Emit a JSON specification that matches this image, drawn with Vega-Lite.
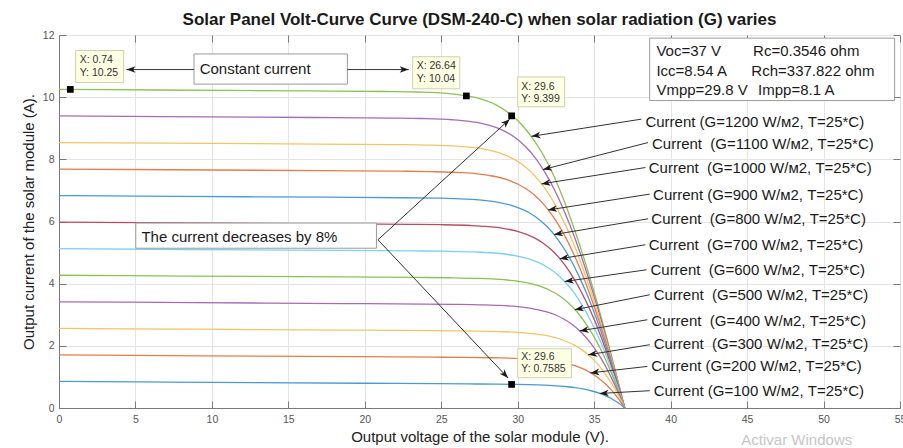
{
  "$schema": "https://vega.github.io/schema/vega-lite/v6.json",
  "width": 841,
  "height": 373,
  "autosize": {"type": "none"},
  "padding": {"left": 59, "top": 35, "right": 3, "bottom": 40},
  "background": "white",
  "title": {"text": "Solar Panel Volt-Curve Curve (DSM-240-C) when solar radiation (G) varies", "fontSize": 17, "fontWeight": "bold", "font": "Liberation Sans", "color": "#1a1a1a", "offset": 1, "anchor": "middle", "frame": "group"},
  "datasets": {
    "curves": [
      {"G":1200,"V":0,"I":10.25},{"G":1200,"V":6.37,"I":10.23},{"G":1200,"V":16.38,"I":10.201},{"G":1200,"V":21.39,"I":10.183},{"G":1200,"V":23.39,"I":10.167},{"G":1200,"V":25.41,"I":10.12},{"G":1200,"V":26.43,"I":10.06},{"G":1200,"V":27.46,"I":9.96},{"G":1200,"V":28.52,"I":9.77},{"G":1200,"V":29.65,"I":9.40},{"G":1200,"V":30.25,"I":9.12},{"G":1200,"V":30.88,"I":8.74},{"G":1200,"V":31.58,"I":8.22},{"G":1200,"V":32.35,"I":7.481},{"G":1200,"V":33.22,"I":6.421},{"G":1200,"V":34.25,"I":4.942},{"G":1200,"V":34.96,"I":3.788},{"G":1200,"V":35.76,"I":2.378},{"G":1200,"V":36.35,"I":1.268},{"G":1200,"V":37,"I":0},
      {"G":1100,"V":0,"I":9.395},{"G":1100,"V":6.68,"I":9.375},{"G":1100,"V":16.69,"I":9.346},{"G":1100,"V":21.69,"I":9.328},{"G":1100,"V":23.7,"I":9.313},{"G":1100,"V":25.71,"I":9.274},{"G":1100,"V":26.73,"I":9.229},{"G":1100,"V":27.76,"I":9.143},{"G":1100,"V":28.82,"I":8.979},{"G":1100,"V":29.93,"I":8.662},{"G":1100,"V":30.52,"I":8.404},{"G":1100,"V":31.15,"I":8.047},{"G":1100,"V":31.82,"I":7.547},{"G":1100,"V":32.57,"I":6.851},{"G":1100,"V":33.42,"I":5.88},{"G":1100,"V":34.4,"I":4.526},{"G":1100,"V":35.07,"I":3.469},{"G":1100,"V":35.83,"I":2.178},{"G":1100,"V":36.39,"I":1.161},{"G":1100,"V":37,"I":0},
      {"G":1000,"V":0,"I":8.54},{"G":1000,"V":6.98,"I":8.52},{"G":1000,"V":16.99,"I":8.491},{"G":1000,"V":22.0,"I":8.473},{"G":1000,"V":24.0,"I":8.459},{"G":1000,"V":26.01,"I":8.423},{"G":1000,"V":27.03,"I":8.382},{"G":1000,"V":28.06,"I":8.304},{"G":1000,"V":29.11,"I":8.154},{"G":1000,"V":30.21,"I":7.866},{"G":1000,"V":30.79,"I":7.632},{"G":1000,"V":31.41,"I":7.307},{"G":1000,"V":32.07,"I":6.854},{"G":1000,"V":32.79,"I":6.221},{"G":1000,"V":33.61,"I":5.34},{"G":1000,"V":34.54,"I":4.11},{"G":1000,"V":35.18,"I":3.15},{"G":1000,"V":35.9,"I":1.977},{"G":1000,"V":36.43,"I":1.054},{"G":1000,"V":37,"I":0},
      {"G":900,"V":0,"I":7.687},{"G":900,"V":7.28,"I":7.665},{"G":900,"V":17.29,"I":7.636},{"G":900,"V":22.3,"I":7.619},{"G":900,"V":24.3,"I":7.605},{"G":900,"V":26.31,"I":7.573},{"G":900,"V":27.33,"I":7.535},{"G":900,"V":28.35,"I":7.464},{"G":900,"V":29.4,"I":7.33},{"G":900,"V":30.49,"I":7.07},{"G":900,"V":31.07,"I":6.86},{"G":900,"V":31.67,"I":6.568},{"G":900,"V":32.32,"I":6.16},{"G":900,"V":33.02,"I":5.592},{"G":900,"V":33.8,"I":4.799},{"G":900,"V":34.69,"I":3.694},{"G":900,"V":35.3,"I":2.831},{"G":900,"V":35.97,"I":1.777},{"G":900,"V":36.46,"I":0.947},{"G":900,"V":37,"I":0},
      {"G":800,"V":0,"I":6.833},{"G":800,"V":7.59,"I":6.81},{"G":800,"V":17.6,"I":6.781},{"G":800,"V":22.6,"I":6.764},{"G":800,"V":24.61,"I":6.752},{"G":800,"V":26.62,"I":6.722},{"G":800,"V":27.63,"I":6.688},{"G":800,"V":28.65,"I":6.625},{"G":800,"V":29.69,"I":6.505},{"G":800,"V":30.78,"I":6.275},{"G":800,"V":31.34,"I":6.088},{"G":800,"V":31.93,"I":5.829},{"G":800,"V":32.56,"I":5.467},{"G":800,"V":33.24,"I":4.962},{"G":800,"V":33.99,"I":4.259},{"G":800,"V":34.84,"I":3.278},{"G":800,"V":35.41,"I":2.512},{"G":800,"V":36.04,"I":1.577},{"G":800,"V":36.5,"I":0.84},{"G":800,"V":37,"I":0},
      {"G":700,"V":0,"I":5.979},{"G":700,"V":7.89,"I":5.955},{"G":700,"V":17.9,"I":5.926},{"G":700,"V":22.9,"I":5.909},{"G":700,"V":24.91,"I":5.898},{"G":700,"V":26.92,"I":5.871},{"G":700,"V":27.93,"I":5.841},{"G":700,"V":28.95,"I":5.786},{"G":700,"V":29.99,"I":5.681},{"G":700,"V":31.06,"I":5.479},{"G":700,"V":31.62,"I":5.316},{"G":700,"V":32.2,"I":5.089},{"G":700,"V":32.81,"I":4.773},{"G":700,"V":33.46,"I":4.333},{"G":700,"V":34.18,"I":3.718},{"G":700,"V":34.99,"I":2.862},{"G":700,"V":35.52,"I":2.193},{"G":700,"V":36.11,"I":1.377},{"G":700,"V":36.54,"I":0.734},{"G":700,"V":37,"I":0},
      {"G":600,"V":0,"I":5.125},{"G":600,"V":8.19,"I":5.1},{"G":600,"V":18.2,"I":5.071},{"G":600,"V":23.21,"I":5.054},{"G":600,"V":25.21,"I":5.044},{"G":600,"V":27.22,"I":5.02},{"G":600,"V":28.23,"I":4.994},{"G":600,"V":29.25,"I":4.946},{"G":600,"V":30.28,"I":4.856},{"G":600,"V":31.34,"I":4.684},{"G":600,"V":31.89,"I":4.544},{"G":600,"V":32.46,"I":4.35},{"G":600,"V":33.05,"I":4.08},{"G":600,"V":33.69,"I":3.703},{"G":600,"V":34.37,"I":3.178},{"G":600,"V":35.13,"I":2.446},{"G":600,"V":35.64,"I":1.874},{"G":600,"V":36.18,"I":1.177},{"G":600,"V":36.58,"I":0.627},{"G":600,"V":37,"I":0},
      {"G":500,"V":0,"I":4.271},{"G":500,"V":8.49,"I":4.245},{"G":500,"V":18.51,"I":4.216},{"G":500,"V":23.51,"I":4.2},{"G":500,"V":25.51,"I":4.19},{"G":500,"V":27.52,"I":4.169},{"G":500,"V":28.53,"I":4.147},{"G":500,"V":29.54,"I":4.107},{"G":500,"V":30.57,"I":4.032},{"G":500,"V":31.62,"I":3.888},{"G":500,"V":32.16,"I":3.772},{"G":500,"V":32.72,"I":3.611},{"G":500,"V":33.3,"I":3.386},{"G":500,"V":33.91,"I":3.073},{"G":500,"V":34.56,"I":2.637},{"G":500,"V":35.28,"I":2.03},{"G":500,"V":35.75,"I":1.555},{"G":500,"V":36.25,"I":0.976},{"G":500,"V":36.62,"I":0.52},{"G":500,"V":37,"I":0},
      {"G":400,"V":0,"I":3.416},{"G":400,"V":8.8,"I":3.39},{"G":400,"V":18.81,"I":3.361},{"G":400,"V":23.81,"I":3.345},{"G":400,"V":25.82,"I":3.336},{"G":400,"V":27.82,"I":3.318},{"G":400,"V":28.83,"I":3.3},{"G":400,"V":29.84,"I":3.268},{"G":400,"V":30.86,"I":3.207},{"G":400,"V":31.9,"I":3.092},{"G":400,"V":32.44,"I":3.0},{"G":400,"V":32.98,"I":2.871},{"G":400,"V":33.55,"I":2.693},{"G":400,"V":34.13,"I":2.444},{"G":400,"V":34.76,"I":2.097},{"G":400,"V":35.43,"I":1.614},{"G":400,"V":35.86,"I":1.236},{"G":400,"V":36.32,"I":0.776},{"G":400,"V":36.65,"I":0.414},{"G":400,"V":37,"I":0},
      {"G":300,"V":0,"I":2.562},{"G":300,"V":9.1,"I":2.535},{"G":300,"V":19.11,"I":2.506},{"G":300,"V":24.12,"I":2.49},{"G":300,"V":26.12,"I":2.482},{"G":300,"V":28.13,"I":2.467},{"G":300,"V":29.13,"I":2.453},{"G":300,"V":30.14,"I":2.428},{"G":300,"V":31.16,"I":2.383},{"G":300,"V":32.19,"I":2.297},{"G":300,"V":32.71,"I":2.228},{"G":300,"V":33.24,"I":2.132},{"G":300,"V":33.79,"I":1.999},{"G":300,"V":34.36,"I":1.814},{"G":300,"V":34.95,"I":1.557},{"G":300,"V":35.58,"I":1.198},{"G":300,"V":35.97,"I":0.918},{"G":300,"V":36.4,"I":0.576},{"G":300,"V":36.69,"I":0.307},{"G":300,"V":37,"I":0},
      {"G":200,"V":0,"I":1.708},{"G":200,"V":9.4,"I":1.68},{"G":200,"V":19.41,"I":1.651},{"G":200,"V":24.42,"I":1.635},{"G":200,"V":26.42,"I":1.628},{"G":200,"V":28.43,"I":1.616},{"G":200,"V":29.43,"I":1.606},{"G":200,"V":30.44,"I":1.589},{"G":200,"V":31.45,"I":1.558},{"G":200,"V":32.47,"I":1.501},{"G":200,"V":32.98,"I":1.456},{"G":200,"V":33.51,"I":1.393},{"G":200,"V":34.04,"I":1.306},{"G":200,"V":34.58,"I":1.185},{"G":200,"V":35.14,"I":1.016},{"G":200,"V":35.72,"I":0.782},{"G":200,"V":36.09,"I":0.599},{"G":200,"V":36.47,"I":0.376},{"G":200,"V":36.73,"I":0.2},{"G":200,"V":37,"I":0},
      {"G":100,"V":0,"I":0.854},{"G":100,"V":9.71,"I":0.825},{"G":100,"V":19.72,"I":0.796},{"G":100,"V":24.72,"I":0.781},{"G":100,"V":26.73,"I":0.774},{"G":100,"V":28.73,"I":0.766},{"G":100,"V":29.73,"I":0.759},{"G":100,"V":30.73,"I":0.75},{"G":100,"V":31.74,"I":0.734},{"G":100,"V":32.75,"I":0.706},{"G":100,"V":33.26,"I":0.684},{"G":100,"V":33.77,"I":0.654},{"G":100,"V":34.28,"I":0.612},{"G":100,"V":34.8,"I":0.555},{"G":100,"V":35.33,"I":0.476},{"G":100,"V":35.87,"I":0.366},{"G":100,"V":36.2,"I":0.28},{"G":100,"V":36.54,"I":0.176},{"G":100,"V":36.77,"I":0.094},{"G":100,"V":37,"I":0}
    ],
    "markers": [
      {"V":0.74,"I":10.25},{"V":26.64,"I":10.04},{"V":29.6,"I":9.399},{"V":29.6,"I":0.7585}
    ],
    "tipboxes": [
      {"x0":1.09,"x1":4.23,"y0":11.5,"y1":10.47},
      {"x0":23.13,"x1":26.21,"y0":11.3,"y1":10.27},
      {"x0":30.0,"x1":33.07,"y0":10.65,"y1":9.69},
      {"x0":30.0,"x1":33.51,"y0":1.907,"y1":0.974}
    ],
    "tiptexts": [
      {"x":1.35,"y":11.18,"t":"X: 0.74"},{"x":1.35,"y":10.77,"t":"Y: 10.25"},
      {"x":23.39,"y":10.99,"t":"X: 26.64"},{"x":23.39,"y":10.57,"t":"Y: 10.04"},
      {"x":30.23,"y":10.33,"t":"X: 29.6"},{"x":30.23,"y":9.945,"t":"Y: 9.399"},
      {"x":30.23,"y":1.64,"t":"X: 29.6"},{"x":30.23,"y":1.254,"t":"Y: 0.7585"}
    ],
    "boxes": [
      {"x0":8.83,"x1":18.86,"y0":11.39,"y1":10.42},
      {"x0":38.63,"x1":54.65,"y0":11.9,"y1":9.89},
      {"x0":5.02,"x1":20.76,"y0":5.95,"y1":5.14}
    ],
    "notes": [
      {"x":9.2,"y":10.9,"t":"Constant current"},
      {"x":5.39,"y":5.498,"t":"The current decreases by 8%"},
      {"x":39.07,"y":11.47,"t":"Voc=37 V"},
      {"x":45.39,"y":11.47,"t":"Rc=0.3546 ohm"},
      {"x":39.07,"y":10.855,"t":"Icc=8.54 A"},
      {"x":45.28,"y":10.855,"t":"Rch=337.822 ohm"},
      {"x":39.07,"y":10.235,"t":"Vmpp=29.8 V"},
      {"x":45.72,"y":10.235,"t":"Impp=8.1 A"},
      {"x":38.35,"y":9.216,"t":"Current (G=1200 W/м2, T=25*C)"},
      {"x":38.78,"y":8.489,"t":"Current\u00a0 (G=1100 W/м2, T=25*C)"},
      {"x":38.57,"y":7.717,"t":"Current\u00a0 (G=1000 W/м2, T=25*C)"},
      {"x":38.85,"y":6.859,"t":"Current (G=900 W/м2, T=25*C)"},
      {"x":38.74,"y":6.087,"t":"Current\u00a0 (G=800 W/м2, T=25*C)"},
      {"x":38.57,"y":5.228,"t":"Current\u00a0 (G=700 W/м2, T=25*C)"},
      {"x":38.68,"y":4.447,"t":"Current\u00a0 (G=600 W/м2, T=25*C)"},
      {"x":38.89,"y":3.643,"t":"Current\u00a0 (G=500 W/м2, T=25*C)"},
      {"x":38.74,"y":2.807,"t":"Current\u00a0 (G=400 W/м2, T=25*C)"},
      {"x":38.89,"y":2.068,"t":"Current\u00a0 (G=300 W/м2, T=25*C)"},
      {"x":38.74,"y":1.338,"t":"Current (G=200 W/м2, T=25*C)"},
      {"x":38.89,"y":0.534,"t":"Current (G=100 W/м2, T=25*C)"}
    ],
    "arrows": [
      {"x0":38.09,"y0":9.293,"x1":30.9,"y1":8.74},
      {"x0":38.52,"y0":8.54,"x1":31.65,"y1":7.67},
      {"x0":38.35,"y0":7.736,"x1":31.55,"y1":7.21},
      {"x0":38.63,"y0":6.881,"x1":31.98,"y1":6.37},
      {"x0":38.52,"y0":6.087,"x1":32.37,"y1":5.58},
      {"x0":38.35,"y0":5.251,"x1":32.75,"y1":4.8},
      {"x0":38.42,"y0":4.447,"x1":33.07,"y1":4.07},
      {"x0":38.63,"y0":3.643,"x1":33.73,"y1":3.16},
      {"x0":38.48,"y0":2.839,"x1":34.05,"y1":2.48},
      {"x0":38.63,"y0":2.035,"x1":34.6,"y1":1.71},
      {"x0":38.48,"y0":1.338,"x1":34.75,"y1":1.13},
      {"x0":38.63,"y0":0.556,"x1":35.36,"y1":0.468},
      {"x0":8.83,"y0":10.888,"x1":4.41,"y1":10.888},
      {"x0":18.86,"y0":10.888,"x1":22.87,"y1":10.888},
      {"x0":20.86,"y0":5.412,"x1":29.48,"y1":9.293},
      {"x0":20.86,"y0":5.412,"x1":29.37,"y1":0.965}
    ],
    "watermark": [
      {"x":48.25,"y":-1.02,"t":"Activar Windows"}
    ]
  },
  "layer": [
    {
      "data": {"name": "curves"},
      "mark": {"type": "line", "strokeWidth": 1.3, "interpolate": "monotone"},
      "encoding": {
        "x": {"field": "V", "type": "quantitative", "scale": {"domain": [0, 55], "nice": false, "zero": false},
          "axis": {"orient": "bottom", "values": [0,5,10,15,20,25,30,35,40,45,50,55], "title": "Output voltage of the solar module (V).", "grid": true, "gridColor": "#e4e4e4", "tickSize": -7, "tickColor": "#7a7a7a", "domainColor": "#7a7a7a", "labelFontSize": 10.5, "labelColor": "#555555", "labelPadding": 13, "labelFont": "Liberation Sans", "labelFlush": false, "labelOverlap": false, "titleFont": "Liberation Sans", "titleFontSize": 15, "titleFontWeight": "normal", "titleColor": "#222222", "titlePadding": 5}},
        "y": {"field": "I", "type": "quantitative", "scale": {"domain": [0, 12], "nice": false},
          "axis": {"orient": "left", "values": [0,2,4,6,8,10,12], "title": "Output current of the solar module (A).", "grid": true, "gridColor": "#e4e4e4", "tickSize": -7, "tickColor": "#7a7a7a", "domainColor": "#7a7a7a", "labelFontSize": 10.5, "labelColor": "#555555", "labelPadding": 12, "labelFont": "Liberation Sans", "labelFlush": false, "labelOverlap": false, "titleFont": "Liberation Sans", "titleFontSize": 15, "titleFontWeight": "normal", "titleColor": "#222222", "titlePadding": 6}},
        "color": {"field": "G", "type": "nominal", "legend": null,
          "scale": {"domain": [100,200,300,400,500,600,700,800,900,1000,1100,1200],
            "range": ["#4a9ad8","#e57c4c","#f2c560","#a66bb7","#8cc155","#7dd0f2","#b84c60","#4a9ad8","#e57c4c","#f2c560","#a66bb7","#8cc155"]}}
      }
    },
    {
      "data": {"name": "tipboxes"},
      "mark": {"type": "rect", "fill": "#ffffe3", "stroke": "#cfcfb0", "strokeWidth": 1},
      "encoding": {
        "x": {"field": "x0", "type": "quantitative", "scale": {"domain": [0, 55], "nice": false, "zero": false}, "axis": null},
        "x2": {"field": "x1"},
        "y": {"field": "y0", "type": "quantitative", "scale": {"domain": [0, 12], "nice": false}, "axis": null},
        "y2": {"field": "y1"}
      }
    },
    {
      "data": {"name": "boxes"},
      "mark": {"type": "rect", "fill": "white", "stroke": "#9a9a9a", "strokeWidth": 1},
      "encoding": {
        "x": {"field": "x0", "type": "quantitative", "scale": {"domain": [0, 55], "nice": false, "zero": false}, "axis": null},
        "x2": {"field": "x1"},
        "y": {"field": "y0", "type": "quantitative", "scale": {"domain": [0, 12], "nice": false}, "axis": null},
        "y2": {"field": "y1"}
      }
    },
    {
      "data": {"name": "arrows"},
      "mark": {"type": "rule", "color": "#333333", "strokeWidth": 1},
      "encoding": {
        "x": {"field": "x0", "type": "quantitative", "scale": {"domain": [0, 55], "nice": false, "zero": false}, "axis": null},
        "y": {"field": "y0", "type": "quantitative", "scale": {"domain": [0, 12], "nice": false}, "axis": null},
        "x2": {"field": "x1"},
        "y2": {"field": "y1"}
      }
    },
    {
      "data": {"name": "arrows"},
      "transform": [{"calculate": "atan2((datum.y1 - datum.y0) * 31.08, (datum.x0 - datum.x1) * 15.29) * 180 / PI", "as": "ang"}],
      "mark": {"type": "point", "filled": true, "shape": "M0,0L3,-1.1L2.2,0L3,1.1Z", "size": 36, "color": "#1a1a1a", "opacity": 1},
      "encoding": {
        "x": {"field": "x1", "type": "quantitative", "scale": {"domain": [0, 55], "nice": false, "zero": false}, "axis": null},
        "y": {"field": "y1", "type": "quantitative", "scale": {"domain": [0, 12], "nice": false}, "axis": null},
        "angle": {"field": "ang", "type": "quantitative", "scale": null}
      }
    },
    {
      "data": {"name": "markers"},
      "mark": {"type": "point", "shape": "square", "filled": true, "size": 45, "color": "black", "opacity": 1},
      "encoding": {
        "x": {"field": "V", "type": "quantitative", "scale": {"domain": [0, 55], "nice": false, "zero": false},
          "axis": {"orient": "top", "values": [0,5,10,15,20,25,30,35,40,45,50,55], "labels": false, "title": null, "grid": false, "domain": false, "tickSize": -7, "tickColor": "#7a7a7a"}},
        "y": {"field": "I", "type": "quantitative", "scale": {"domain": [0, 12], "nice": false},
          "axis": {"orient": "right", "values": [0,2,4,6,8,10,12], "labels": false, "title": null, "grid": false, "domain": false, "tickSize": -7, "tickColor": "#7a7a7a"}}
      }
    },
    {
      "data": {"name": "tiptexts"},
      "mark": {"type": "text", "align": "left", "baseline": "middle", "fontSize": 10.5, "font": "Liberation Sans", "color": "#333333"},
      "encoding": {
        "x": {"field": "x", "type": "quantitative", "scale": {"domain": [0, 55], "nice": false, "zero": false}, "axis": null},
        "y": {"field": "y", "type": "quantitative", "scale": {"domain": [0, 12], "nice": false}, "axis": null},
        "text": {"field": "t"}
      }
    },
    {
      "data": {"name": "notes"},
      "mark": {"type": "text", "align": "left", "baseline": "middle", "fontSize": 15, "font": "Liberation Sans", "color": "#1a1a1a"},
      "encoding": {
        "x": {"field": "x", "type": "quantitative", "scale": {"domain": [0, 55], "nice": false, "zero": false}, "axis": null},
        "y": {"field": "y", "type": "quantitative", "scale": {"domain": [0, 12], "nice": false}, "axis": null},
        "text": {"field": "t"}
      }
    },
    {
      "data": {"name": "watermark"},
      "mark": {"type": "text", "align": "center", "baseline": "middle", "fontSize": 15, "font": "Liberation Sans", "color": "#c6c6c6"},
      "encoding": {
        "x": {"field": "x", "type": "quantitative", "scale": {"domain": [0, 55], "nice": false, "zero": false}, "axis": null},
        "y": {"field": "y", "type": "quantitative", "scale": {"domain": [0, 12], "nice": false}, "axis": null},
        "text": {"field": "t"}
      }
    }
  ],
  "resolve": {"axis": {"x": "independent", "y": "independent"}},
  "config": {"font": "Liberation Sans", "view": {"stroke": "#7a7a7a", "strokeWidth": 1}}
}
